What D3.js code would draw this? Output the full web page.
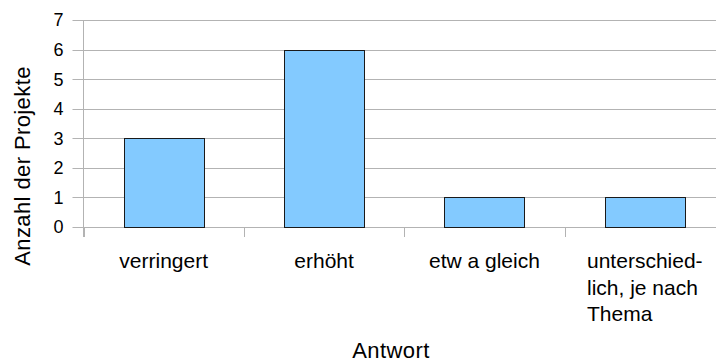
<!DOCTYPE html>
<html>
<head>
<meta charset="utf-8">
<script src="https://cdn.jsdelivr.net/npm/d3@7"></script>
<style>
html,body{margin:0;padding:0;background:#fff;}
svg{display:block;font-family:"Liberation Sans",Arial,sans-serif;}
</style>
</head>
<body>
<svg id="c" width="716" height="363"></svg>
<script>
const categories = ["verringert", "erhöht", "etw a gleich", "unterschied-\nlich, je nach\nThema"];
const values = [3, 6, 1, 1];
const yTicks = [0, 1, 2, 3, 4, 5, 6, 7];
const xTitle = "Antwort";
const yTitle = "Anzahl der Projekte";

const svg = d3.select("#c");
const m = {left: 83.5, right: 725, top: 20, bottom: 227};
const x = d3.scaleBand().domain(categories).range([m.left, m.right]).paddingInner(0).paddingOuter(0);
const y = d3.scaleLinear().domain([0, 7]).range([m.bottom, m.top]);

// gridlines
svg.append("g").selectAll("line").data(yTicks).join("line")
  .attr("x1", m.left - 11).attr("x2", m.right)
  .attr("y1", d => Math.round(y(d)) + 0.5).attr("y2", d => Math.round(y(d)) + 0.5)
  .attr("stroke", "#b3b3b3").attr("stroke-width", 1);

// y axis line
svg.append("line").attr("x1", m.left).attr("x2", m.left)
  .attr("y1", m.top).attr("y2", m.bottom + 10)
  .attr("stroke", "#b3b3b3");

// x ticks at band boundaries
const bounds = categories.map(c => x(c));
svg.append("g").selectAll("line").data(bounds).join("line")
  .attr("x1", d => Math.round(d) + 0.5).attr("x2", d => Math.round(d) + 0.5)
  .attr("y1", m.bottom).attr("y2", m.bottom + 10)
  .attr("stroke", "#b3b3b3");

// y tick labels
svg.append("g").selectAll("text").data(yTicks).join("text")
  .attr("x", 63.5).attr("y", d => y(d)).attr("dy", "0.36em")
  .attr("text-anchor", "end").attr("font-size", 18).attr("fill", "#000")
  .text(d => d);

// bars
const bw = x.bandwidth() * 0.5;
svg.append("g").selectAll("rect").data(values).join("rect")
  .attr("x", (d, i) => Math.round(x(categories[i]) + (x.bandwidth() - bw) / 2) + 0.5)
  .attr("y", d => Math.round(y(d)) + 0.5)
  .attr("width", Math.round(bw))
  .attr("height", d => Math.round(y(0)) - Math.round(y(d)))
  .attr("fill", "#83caff").attr("stroke", "#1a1a1a").attr("stroke-width", 1);

// x labels
const lg = svg.append("g");
categories.forEach(c => {
  const lines = c.split("\n");
  const cx = x(c) + x.bandwidth() / 2;
  const t = lg.append("text").attr("font-size", 21).attr("fill", "#000");
  lines.forEach((l, i) => {
    t.append("tspan").attr("x", 0).attr("y", 268 + i * 26.5).text(l);
  });
  if (lines.length > 1) {
    const w = t.node().getBBox().width;
    t.selectAll("tspan").attr("x", cx - w / 2);
  } else {
    t.attr("text-anchor", "middle").selectAll("tspan").attr("x", cx);
  }
});

// axis titles
svg.append("text").attr("x", 391).attr("y", 358).attr("text-anchor", "middle")
  .attr("font-size", 22).attr("letter-spacing", 0.4).attr("fill", "#000").text(xTitle);
svg.append("text").attr("transform", "translate(30,166) rotate(-90)")
  .attr("text-anchor", "middle").attr("font-size", 22).attr("letter-spacing", 0.4).attr("fill", "#000").text(yTitle);
</script>
</body>
</html>
